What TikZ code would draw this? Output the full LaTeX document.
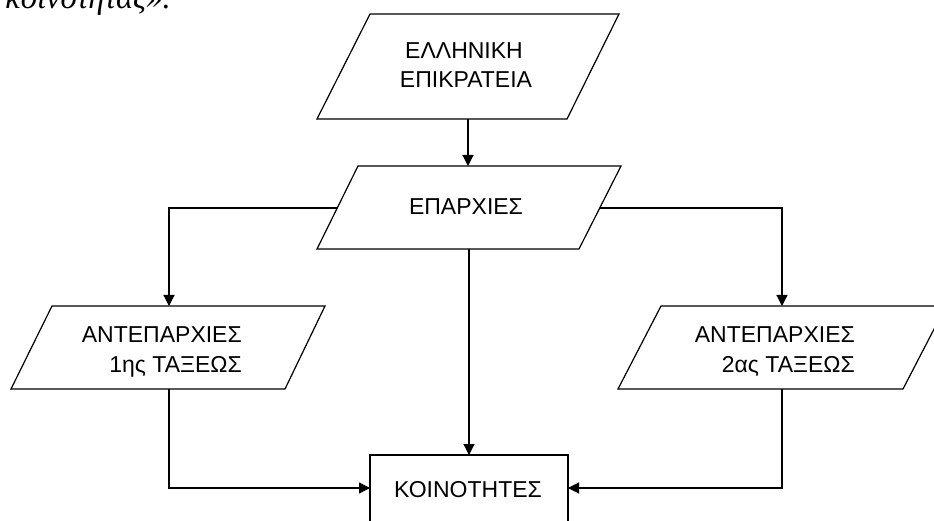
\documentclass[tikz,border=0pt]{standalone}
\usepackage{fontspec}
\setmainfont{Liberation Sans}
\newfontfamily\grserif{Liberation Serif}
\usetikzlibrary{arrows.meta}
\begin{document}
\begin{tikzpicture}[x=1pt,y=-1pt,
  shapeline/.style={draw=black,line width=1.2pt,line join=miter},
  conn/.style={draw=black,line width=1.2pt,-{Triangle[length=11pt,width=11pt]}},
  lbl/.style={font=\fontsize{23}{29}\selectfont,inner sep=0pt},
  capt/.style={font=\grserif\itshape\fontsize{32.5}{38}\selectfont,inner sep=0pt}
]
\useasboundingbox (0,0) rectangle (934,521);
\clip (0,0) rectangle (934,521);
\fill[white] (0,0) rectangle (934,521);

% caption fragment at top (clipped, as in the reference)
\node[capt,anchor=base west] (cap) at (5,9) {κοινοτητας».};

% shapes
\draw[shapeline] (370,14) -- (619,14) -- (567,119) -- (317,119) -- cycle;
\draw[shapeline] (358,166) -- (621,166) -- (579,249) -- (317,249) -- cycle;
\draw[shapeline] (52,306) -- (325,306) -- (285,389) -- (11,389) -- cycle;
\draw[shapeline] (661,306) -- (946,306) -- (903,389) -- (618,389) -- cycle;
\draw[shapeline] (370,540) -- (370,455) -- (568,455) -- (568,540);

% labels
\node[lbl,anchor=base] (ell1) at (464,59) {ΕΛΛΗΝΙΚΗ};
\node[lbl,anchor=base] (ell2) at (466,88) {ΕΠΙΚΡΑΤΕΙΑ};
\node[lbl,anchor=base] (epa) at (466,215) {ΕΠΑΡΧΙΕΣ};
\node[lbl,anchor=base east] (ant1a) at (242,342) {ΑΝΤΕΠΑΡΧΙΕΣ};
\node[lbl,anchor=base east] (ant1b) at (242,372) {1ης ΤΑΞΕΩΣ};
\node[lbl,anchor=base east] (ant2a) at (855,342) {ΑΝΤΕΠΑΡΧΙΕΣ};
\node[lbl,anchor=base east] (ant2b) at (855,372) {2ας ΤΑΞΕΩΣ};
\node[lbl,anchor=base] (koin) at (468,497) {ΚΟΙΝΟΤΗΤΕΣ};

% connection points
\coordinate (topB) at (468,119);
\coordinate (midT) at (468,166);
\coordinate (midL) at (337,208);
\coordinate (midR) at (600,208);
\coordinate (midB) at (469,249);
\coordinate (leftT) at (169,306);
\coordinate (leftB) at (169,389);
\coordinate (rightT) at (782,306);
\coordinate (rightB) at (782,389);
\coordinate (boxT) at (469,455);
\coordinate (boxL) at (370,488);
\coordinate (boxR) at (568,488);

% connectors
\draw[conn] (topB) -- (midT);
\draw[conn] (midL) -| (leftT);
\draw[conn] (midR) -| (rightT);
\draw[conn] (midB) -- (boxT);
\draw[conn] (leftB) |- (boxL);
\draw[conn] (rightB) |- (boxR);
\end{tikzpicture}
\end{document}
